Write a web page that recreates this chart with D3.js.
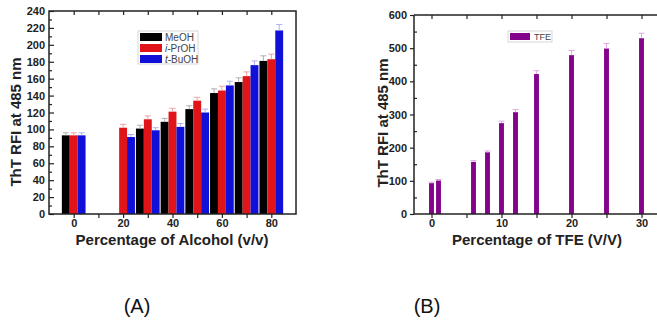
<!DOCTYPE html>
<html>
<head>
<meta charset="utf-8">
<script src="https://cdn.jsdelivr.net/npm/d3@7"></script>
<style>
  body { margin: 0; background: #fff; }
  svg { font-family: "Liberation Sans", Arial, sans-serif; }
</style>
</head>
<body>
<script>
// panel A: ThT RFI vs alcohol percentage
var alcoholPct = [0, 20, 30, 40, 50, 60, 70, 80];
var meoh  = [93, null, 101, 109, 124, 143, 156, 181];
var iproh = [93, 102, 112, 121, 134, 146, 163, 183];
var tbuoh = [93, 91, 99, 103, 120, 152, 176, 217];
var meohErr  = [3, null, 4, 4, 4, 5, 5, 6];
var iprohErr = [3, 4, 4, 4, 4, 5, 5, 6];
var tbuohErr = [3, 3, 3, 4, 4, 5, 5, 7];
var alcoholNames = ["MeOH", "i-PrOH", "t-BuOH"];
var yTicksA = [0, 20, 40, 60, 80, 100, 120, 140, 160, 180, 200, 220, 240];
var xTicksA = [0, 20, 40, 60, 80];

// panel B: ThT RFI vs TFE percentage
var tfePct = [0, 1, 6, 8, 10, 12, 15, 20, 25, 30];
var tfe    = [93, 101, 157, 186, 274, 307, 422, 479, 499, 530];
var tfeErr = [3, 3, 4, 4, 6, 8, 10, 14, 15, 15];
var yTicksB = [0, 100, 200, 300, 400, 500, 600];
var xTicksB = [0, 10, 20, 30];

var width = 657, height = 324;
var svg = d3.select('body').append('svg')
            .attr('width', width)
            .attr('height', height);

var colors = ['#000000', '#e01419', '#1010d8'];
var errColors = ['#b0b0b0', '#f0a0a0', '#b0b0f0'];
var purple = '#83048a';

// ---------- panel A ----------
var xA = d3.scaleLinear().domain([-10, 90]).range([49, 296]);
var yA = d3.scaleLinear().domain([0, 240]).range([214, 11]);
var gA = svg.append('g');

var seriesA = [meoh, iproh, tbuoh];
var errA = [meohErr, iprohErr, tbuohErr];
var barW = 3.2;

seriesA.forEach(function(vals, s) {
  var off = (s - 1) * barW;
  alcoholPct.forEach(function(p, i) {
    if (vals[i] == null) return;
    var x0 = xA(p + off - barW / 2), x1 = xA(p + off + barW / 2);
    gA.append('rect')
      .attr('x', x0).attr('width', x1 - x0)
      .attr('y', yA(vals[i])).attr('height', yA(0) - yA(vals[i]))
      .attr('fill', colors[s]);
    var cx = xA(p + off), yt = yA(vals[i] + errA[s][i]);
    gA.append('line').attr('x1', cx).attr('x2', cx)
      .attr('y1', yA(vals[i])).attr('y2', yt)
      .attr('stroke', errColors[s]).attr('stroke-width', 1);
    gA.append('line').attr('x1', cx - 3).attr('x2', cx + 3)
      .attr('y1', yt).attr('y2', yt)
      .attr('stroke', errColors[s]).attr('stroke-width', 1);
  });
});

// frame + ticks A
gA.append('rect').attr('x', xA(-10)).attr('y', yA(240))
  .attr('width', xA(90) - xA(-10)).attr('height', yA(0) - yA(240))
  .attr('fill', 'none').attr('stroke', '#222').attr('stroke-width', 1.5);

gA.append('g').attr('transform', 'translate(0,' + yA(0) + ')')
  .call(d3.axisBottom(xA).tickValues(d3.range(0, 81, 10)).tickSize(4).tickFormat(''))
  .call(cleanAxis);
gA.append('g').attr('transform', 'translate(0,' + yA(0) + ')')
  .call(d3.axisBottom(xA).tickValues(xTicksA).tickSize(0).tickPadding(5))
  .call(cleanAxis);
gA.append('g').attr('transform', 'translate(0,' + yA(240) + ')')
  .call(d3.axisBottom(xA).tickValues(d3.range(0, 81, 10)).tickSize(4).tickFormat(''))
  .call(cleanAxis);
gA.append('g').attr('transform', 'translate(' + xA(-10) + ',0)')
  .call(d3.axisRight(yA).tickValues(d3.range(10, 240, 20)).tickSize(3).tickFormat(''))
  .call(cleanAxis);
gA.append('g').attr('transform', 'translate(' + xA(-10) + ',0)')
  .call(d3.axisLeft(yA).tickValues(yTicksA).tickSize(-5).tickPadding(4))
  .call(cleanAxis);

gA.append('text').attr('transform', 'translate(21,122) rotate(-90)')
  .attr('text-anchor', 'middle').attr('font-size', 15).attr('font-weight', 'bold')
  .attr('fill', '#222').text('ThT RFI at 485 nm');
gA.append('text').attr('x', 172).attr('y', 245)
  .attr('text-anchor', 'middle').attr('font-size', 15).attr('font-weight', 'bold')
  .attr('fill', '#222').text('Percentage of Alcohol (v/v)');

// legend A
var legA = gA.append('g').attr('transform', 'translate(138,31)');
legA.append('rect').attr('width', 60).attr('height', 33)
  .attr('fill', '#fff').attr('stroke', '#ccc').attr('stroke-width', 0.8);
alcoholNames.forEach(function(n, i) {
  var row = legA.append('g').attr('transform', 'translate(2,' + (2 + i * 11) + ')');
  row.append('rect').attr('width', 22).attr('height', 8).attr('fill', colors[i]);
  var t = row.append('text').attr('x', 25).attr('y', 7.5)
    .attr('font-size', 10).attr('fill', '#444');
  if (n.indexOf('-') > 0) {
    var parts = n.split('-');
    t.append('tspan').attr('font-style', 'italic').text(parts[0] + '-');
    t.append('tspan').text(parts[1]);
  } else {
    t.text(n);
  }
});

// ---------- panel B ----------
var xB = d3.scaleLinear().domain([-2.5, 32.5]).range([414, 659]);
var yB = d3.scaleLinear().domain([0, 600]).range([214, 15]);
var gB = svg.append('g');
var bw = 0.7;

tfePct.forEach(function(p, i) {
  var x0 = xB(p - bw / 2), x1 = xB(p + bw / 2);
  gB.append('rect')
    .attr('x', x0).attr('width', x1 - x0)
    .attr('y', yB(tfe[i])).attr('height', yB(0) - yB(tfe[i]))
    .attr('fill', purple);
  var cx = xB(p), yt = yB(tfe[i] + tfeErr[i]);
  gB.append('line').attr('x1', cx).attr('x2', cx)
    .attr('y1', yB(tfe[i])).attr('y2', yt)
    .attr('stroke', '#e0a8e0').attr('stroke-width', 1);
  gB.append('line').attr('x1', cx - 3).attr('x2', cx + 3)
    .attr('y1', yt).attr('y2', yt)
    .attr('stroke', '#e0a8e0').attr('stroke-width', 1);
});

gB.append('line').attr('x1', xB(-2.5)).attr('x2', xB(32.5))
  .attr('y1', yB(0)).attr('y2', yB(0)).attr('stroke', '#222').attr('stroke-width', 1.5);
gB.append('line').attr('x1', xB(-2.5)).attr('x2', xB(32.5))
  .attr('y1', yB(600)).attr('y2', yB(600)).attr('stroke', '#222').attr('stroke-width', 1.5);
gB.append('line').attr('x1', xB(-2.5)).attr('x2', xB(-2.5))
  .attr('y1', yB(0)).attr('y2', yB(600)).attr('stroke', '#222').attr('stroke-width', 1.5);

gB.append('g').attr('transform', 'translate(0,' + yB(0) + ')')
  .call(d3.axisBottom(xB).tickValues(d3.range(0, 31, 5)).tickSize(4).tickFormat(''))
  .call(cleanAxis);
gB.append('g').attr('transform', 'translate(0,' + yB(0) + ')')
  .call(d3.axisBottom(xB).tickValues(xTicksB).tickSize(0).tickPadding(5))
  .call(cleanAxis);
gB.append('g').attr('transform', 'translate(0,' + yB(600) + ')')
  .call(d3.axisBottom(xB).tickValues(d3.range(0, 31, 5)).tickSize(4).tickFormat(''))
  .call(cleanAxis);
gB.append('g').attr('transform', 'translate(' + xB(-2.5) + ',0)')
  .call(d3.axisRight(yB).tickValues(d3.range(50, 600, 100)).tickSize(3).tickFormat(''))
  .call(cleanAxis);
gB.append('g').attr('transform', 'translate(' + xB(-2.5) + ',0)')
  .call(d3.axisLeft(yB).tickValues(yTicksB).tickSize(4).tickPadding(3))
  .call(cleanAxis);

gB.append('text').attr('transform', 'translate(388,123) rotate(-90)')
  .attr('text-anchor', 'middle').attr('font-size', 15).attr('font-weight', 'bold')
  .attr('fill', '#222').text('ThT RFI at 485 nm');
gB.append('text').attr('x', 537).attr('y', 245)
  .attr('text-anchor', 'middle').attr('font-size', 15).attr('font-weight', 'bold')
  .attr('fill', '#222').text('Percentage of TFE (V/V)');

var legB = gB.append('g').attr('transform', 'translate(508,31)');
legB.append('rect').attr('width', 44).attr('height', 11)
  .attr('fill', '#fff').attr('stroke', '#ccc').attr('stroke-width', 0.8);
legB.append('rect').attr('x', 2).attr('y', 2).attr('width', 20).attr('height', 7).attr('fill', purple);
legB.append('text').attr('x', 26).attr('y', 9).attr('font-size', 9).attr('fill', '#444').text('TFE');

// captions
svg.append('text').attr('x', 137).attr('y', 313).attr('text-anchor', 'middle')
  .attr('font-size', 20).attr('fill', '#111').text('(A)');
svg.append('text').attr('x', 427).attr('y', 313).attr('text-anchor', 'middle')
  .attr('font-size', 20).attr('fill', '#111').text('(B)');

function cleanAxis(g) {
  g.select('.domain').remove();
  g.selectAll('.tick line').attr('stroke', '#222').attr('stroke-width', 1.2);
  g.selectAll('.tick text').attr('font-size', 11).attr('font-weight', 'bold')
    .attr('fill', '#222').attr('font-family', '"Liberation Sans", Arial, sans-serif');
}
</script>
</body>
</html>
